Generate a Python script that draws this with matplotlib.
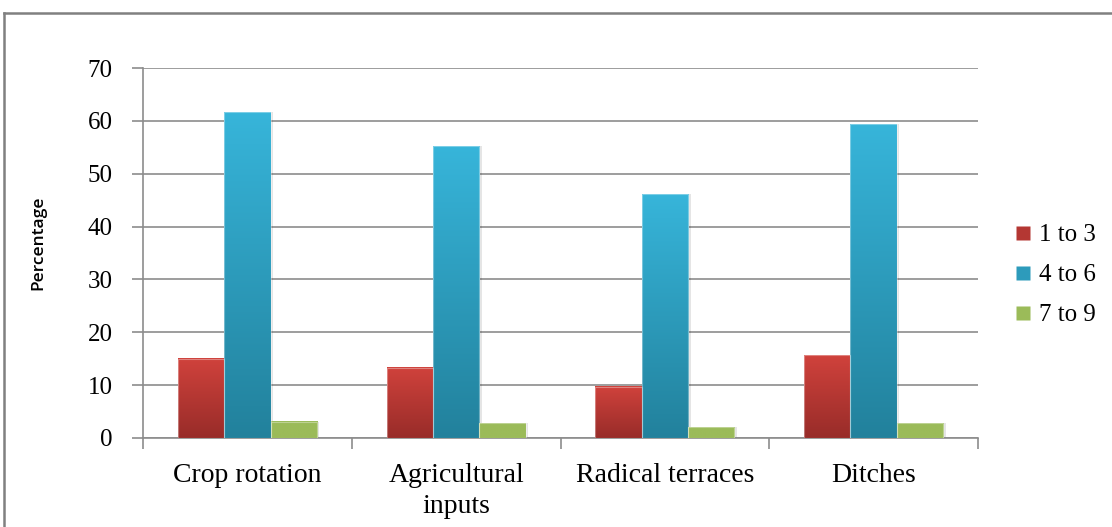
import numpy as np
import matplotlib
matplotlib.use("Agg")
import matplotlib.pyplot as plt
from matplotlib.colors import LinearSegmentedColormap
from matplotlib.lines import Line2D

categories = ["Crop rotation", "Agricultural\ninputs", "Radical terraces", "Ditches"]
series_names = ["1 to 3", "4 to 6", "7 to 9"]
vals_1_3 = [15.0, 13.3, 9.7, 15.7]
vals_4_6 = [61.6, 55.2, 46.1, 59.4]
vals_7_9 = [3.1, 2.8, 2.0, 2.8]
y_ticks = [0, 10, 20, 30, 40, 50, 60, 70]

# top colour, bottom colour for each series
grad_colors = [("#D0423C", "#982C29"), ("#37B5DA", "#22819C"), ("#9BBB59", "#9BBB59")]

serif = ["Liberation Serif", "DejaVu Serif"]
sans = ["Open Sans", "DejaVu Sans"]

fig = plt.figure(figsize=(11.12, 5.27), dpi=100)
ax = fig.add_axes([143 / 1112, 89 / 527, (978 - 143) / 1112, (438 - 68) / 527])

x = np.arange(len(categories))
w = 0.222
series = [vals_1_3, vals_4_6, vals_7_9]
offsets = [-w, 0, w]
grad = np.linspace(1, 0, 256).reshape(-1, 1)

for vals, off, (ctop, cbot), name in zip(series, offsets, grad_colors, series_names):
    bars = ax.bar(x + off, vals, width=w, color="none", edgecolor="none", zorder=3, label=name)
    cmap = LinearSegmentedColormap.from_list("g", [cbot, ctop])
    for b in bars:
        x0, y0 = b.get_x(), b.get_y()
        bw, bh = b.get_width(), b.get_height()
        # soft shadow on the right side
        ax.add_patch(plt.Rectangle((x0 + bw, y0), 0.012, bh, color="#000000",
                                   alpha=0.10, lw=0, zorder=2.5))
        ax.imshow(grad, cmap=cmap, aspect="auto", extent=(x0, x0 + bw, y0, y0 + bh),
                  zorder=3, interpolation="bilinear")
        ax.add_patch(plt.Rectangle((x0, y0), bw, bh, fill=False,
                                   edgecolor=(1, 1, 1, 0.35), lw=0.8, zorder=3.2))

ax.set_xlim(-0.5, len(categories) - 0.5)
ax.set_ylim(0, 70)
ax.set_yticks(y_ticks)
ax.set_yticklabels([str(t) for t in y_ticks], fontfamily=serif, fontsize=18)
ax.yaxis.grid(True, color="#8C8C8C", lw=1.2, zorder=1)
ax.set_axisbelow(True)

# category labels centred, ticks on the boundaries
ax.set_xticks(x)
ax.set_xticklabels(categories, fontfamily=serif, fontsize=20, linespacing=1.3)
ax.tick_params(axis="x", length=0, pad=18)
ax.set_xticks(np.arange(-0.5, len(categories)), minor=True)
ax.tick_params(axis="x", which="minor", length=8, color="#8C8C8C", width=1.2, direction="out")
ax.tick_params(axis="y", length=8, color="#8C8C8C", width=1.2, direction="out", pad=14)

for s in ["top", "right"]:
    ax.spines[s].set_visible(False)
for s in ["left", "bottom"]:
    ax.spines[s].set_color("#8C8C8C")
    ax.spines[s].set_linewidth(1.2)

ax.set_ylabel("Percentage", fontfamily=sans, fontsize=12.5, fontweight="semibold")
ax.yaxis.set_label_coords(-0.116, 0.527)

# legend
handles = []
for (ctop, cbot) in grad_colors:
    mid = LinearSegmentedColormap.from_list("m", [cbot, ctop])(0.5)
    handles.append(Line2D([], [], marker="s", ls="none", markersize=10.5,
                          markerfacecolor=mid, markeredgecolor="none"))
fig.legend(handles, series_names, loc="center left", bbox_to_anchor=(1014 / 1112, 1 - 275 / 527),
           frameon=False, prop={"family": serif, "size": 18}, handlelength=0.7,
           handletextpad=0.3, labelspacing=0.7, borderpad=0, borderaxespad=0)

# chart-area frame
fig.add_artist(Line2D([4 / 1112, 1.0], [1 - 13 / 527, 1 - 13 / 527], color="#808080",
                      lw=1.8, transform=fig.transFigure))
fig.add_artist(Line2D([4 / 1112, 4 / 1112], [0, 1 - 13 / 527], color="#808080",
                      lw=1.8, transform=fig.transFigure))

fig.savefig("out.png", dpi=100)
